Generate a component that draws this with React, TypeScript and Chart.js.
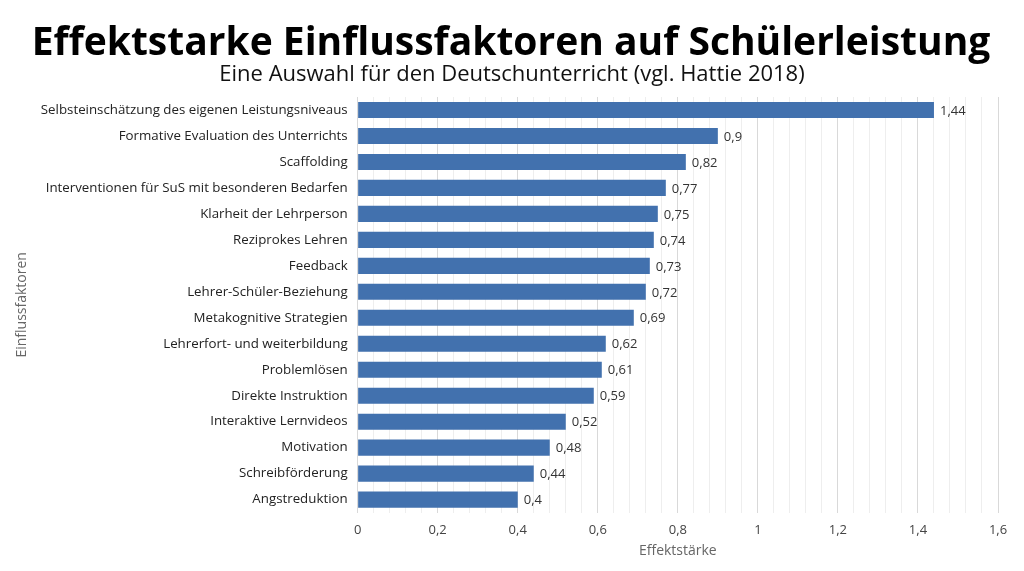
import React, { useEffect, useRef } from "react";
import { Chart, registerables } from "chart.js";

Chart.register(...registerables);

const categories: string[] = [
  "Selbsteinschätzung des eigenen Leistungsniveaus",
  "Formative Evaluation des Unterrichts",
  "Scaffolding",
  "Interventionen für SuS mit besonderen Bedarfen",
  "Klarheit der Lehrperson",
  "Reziprokes Lehren",
  "Feedback",
  "Lehrer-Schüler-Beziehung",
  "Metakognitive Strategien",
  "Lehrerfort- und weiterbildung",
  "Problemlösen",
  "Direkte Instruktion",
  "Interaktive Lernvideos",
  "Motivation",
  "Schreibförderung",
  "Angstreduktion",
];

const effectSizes: number[] = [
  1.44, 0.9, 0.82, 0.77, 0.75, 0.74, 0.73, 0.72, 0.69, 0.62, 0.61, 0.59, 0.52, 0.48, 0.44, 0.4,
];

const titleText = "Effektstarke Einflussfaktoren auf Schülerleistung";
const subtitleText = "Eine Auswahl für den Deutschunterricht (vgl. Hattie 2018)";
const xAxisTitle = "Effektstärke";
const yAxisTitle = "Einflussfaktoren";

const FONT = "'Open Sans', sans-serif";

const fmt = (v: number) => String(Math.round(v * 100) / 100).replace(".", ",");
const isMajor = (v: number) => Math.abs(v / 0.2 - Math.round(v / 0.2)) < 1e-6;

const valueLabels = {
  id: "valueLabels",
  afterDatasetsDraw(chart: any) {
    const { ctx } = chart;
    const meta = chart.getDatasetMeta(0);
    ctx.save();
    ctx.font = `13px ${FONT}`;
    ctx.fillStyle = "#333333";
    ctx.textAlign = "left";
    ctx.textBaseline = "middle";
    meta.data.forEach((bar: any, i: number) => {
      ctx.fillText(fmt(effectSizes[i]), bar.x + 6, bar.y + 1);
    });
    ctx.restore();
  },
};

const headings = {
  id: "headings",
  afterDraw(chart: any) {
    const { ctx, width } = chart;
    ctx.save();
    ctx.textAlign = "center";
    ctx.textBaseline = "middle";
    ctx.fillStyle = "#000000";
    ctx.font = `bold 39px ${FONT}`;
    ctx.fillText(titleText, width / 2 - 1, 44);
    ctx.fillStyle = "#111111";
    ctx.font = `22px ${FONT}`;
    ctx.fillText(subtitleText, width / 2, 75);
    ctx.restore();
  },
};

export default function App() {
  const ref = useRef<HTMLCanvasElement | null>(null);
  useEffect(() => {
    document.body.style.margin = "0";
    if (!ref.current) return;
    const chart = new Chart(ref.current, {
      type: "bar",
      data: {
        labels: categories,
        datasets: [
          {
            data: effectSizes,
            backgroundColor: "#4271AE",
            categoryPercentage: 1,
            barPercentage: 0.62,
          },
        ],
      },
      options: {
        indexAxis: "y",
        animation: false,
        responsive: true,
        maintainAspectRatio: false,
        layout: { padding: { left: 10, right: 26, top: 97, bottom: 8 } },
        plugins: {
          legend: { display: false },
          tooltip: { enabled: false },
          title: { display: false },
          subtitle: { display: false },
        },
        scales: {
          x: {
            type: "linear",
            min: 0,
            max: 1.6,
            ticks: {
              stepSize: 0.04,
              autoSkip: false,
              maxRotation: 0,
              color: "#444444",
              font: { family: FONT, size: 13 },
              padding: 10,
              callback: (v: any) => (isMajor(Number(v)) ? fmt(Number(v)) : ""),
            },
            grid: {
              drawTicks: false,
              color: (c: any) => (c.tick && isMajor(c.tick.value) ? "#d9d9d9" : "#eeeeee"),
            },
            border: { display: false },
            title: {
              display: true,
              text: xAxisTitle,
              color: "#666666",
              font: { family: FONT, size: 14 },
              padding: { top: -6, bottom: 4 },
            },
          },
          y: {
            grid: { display: false, drawTicks: false },
            border: { display: false },
            ticks: {
              color: "#222222",
              font: { family: FONT, size: 13.3 },
              padding: 10,
              autoSkip: false,
            },
            title: {
              display: true,
              text: yAxisTitle,
              color: "#666666",
              font: { family: FONT, size: 14 },
              padding: { top: 4, bottom: 0 },
            },
          },
        },
      },
      plugins: [valueLabels, headings],
    });
    return () => chart.destroy();
  }, []);
  return (
    <div style={{ position: "relative", width: 1024, height: 571 }}>
      <canvas ref={ref} />
    </div>
  );
}
